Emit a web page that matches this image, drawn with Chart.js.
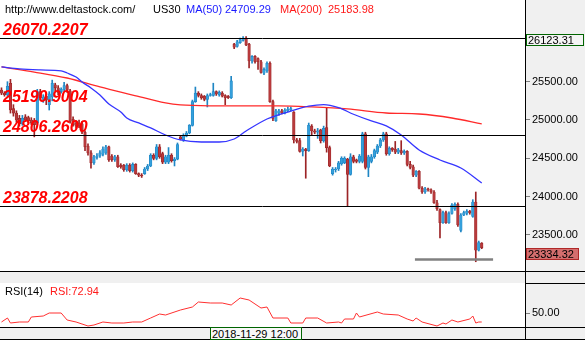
<!DOCTYPE html>
<html>
<head>
<meta charset="utf-8">
<title>US30</title>
<script src="https://cdn.jsdelivr.net/npm/chart.js@4.4.1/dist/chart.umd.min.js"></script>
<style>
  body { margin: 0; background: #f0f0f0; font-family: "Liberation Sans", Arial, sans-serif; }
  #wrap { position: relative; width: 585px; height: 340px; overflow: hidden; }
  canvas { position: absolute; left: 0; }
  #mainChart { top: 0; }
  #rsiChart { top: 283px; }
  .txt { position: absolute; font-size: 11px; line-height: 13px; white-space: nowrap; }
  .hline { position: absolute; height: 1px; background: #000; }
  .vline { position: absolute; width: 1px; background: #000; }
  #dateBox { position: absolute; left: 210px; top: 327px; width: 89px; height: 11px; border: 1px solid #006400;
             background: #f8f8f8; font-size: 11px; line-height: 12px; padding-left: 1px; }
</style>
</head>
<body>
<div id="wrap">
  <canvas id="mainChart" width="585" height="272"></canvas>
  <canvas id="rsiChart" width="585" height="44"></canvas>

  <div class="hline" style="left:0;top:271px;width:585px"></div>
  <div class="hline" style="left:525px;top:283px;width:60px"></div>
  <div class="hline" style="left:0;top:327px;width:585px"></div>
  <div class="hline" style="left:0;top:339px;width:585px"></div>
  <div class="vline" style="left:525px;top:0;height:340px"></div>

  <div class="txt" style="left:5px;top:3px;color:#000">http://www.deltastock.com/</div>
  <div class="txt" style="left:153px;top:3px;color:#000">US30</div>
  <div class="txt" style="left:186px;top:3px;color:#1a1aff">MA(50)</div>
  <div class="txt" style="left:225px;top:3px;color:#1a1aff">24709.29</div>
  <div class="txt" style="left:280px;top:3px;color:#ff1a1a">MA(200)</div>
  <div class="txt" style="left:328px;top:3px;color:#ff1a1a">25183.98</div>

  <div class="txt" style="left:5px;top:285px;color:#000">RSI(14)</div>
  <div class="txt" style="left:50px;top:285px;color:#ff1a1a">RSI:72.94</div>

  <div id="dateBox">2018-11-29 12:00</div>
</div>

<script>
// candles, oldest first
const opens = [
  25390, 25350, 25330, 25480, 25150, 25090, 25020, 24950, 25040, 25030,
  25000, 24990, 24960, 25370, 25270, 25310, 25200, 25300, 25460, 25420,
  25370, 25400, 25450, 25380, 25010, 24960, 24960, 24950, 24840, 24660,
  24570, 24440, 24510, 24530, 24550, 24570, 24650, 24530, 24480, 24520,
  24410, 24410, 24350, 24410, 24340, 24420, 24300, 24280, 24300, 24360,
  24400, 24540, 24500, 24650, 24560, 24450, 24450, 24540, 24470, 24490,
  24780, 24740, 24790, 24830, 24930, 25240, 25350, 25320, 25310, 25270,
  25320, 25320, 25370, 25330, 25350, 25320, 25310, 25290, 25990, 25960,
  26010, 26040, 26070, 25990, 25770, 25830, 25800, 25760, 25610, 25640,
  25740, 25240, 24990, 25090, 25120, 25090, 25120, 25130, 25100, 24740,
  24730, 24590, 24620, 24600, 24920, 24860, 24840, 24870, 24730, 24900,
  24640, 24300, 24350, 24360, 24430, 24440, 24490, 24290, 24520, 24480,
  24460, 24460, 24820, 24380, 24460, 24520, 24580, 24660, 24740, 24820,
  24560, 24630, 24620, 24580, 24600, 24570, 24590, 24420, 24390, 24280,
  24330, 24110, 24060, 24100, 24090, 24060, 23920, 23830, 23660, 23790,
  23660, 23780, 23840, 23900, 23560, 23760, 23780, 23810, 23740, 23930,
  23300, 23390
];
const highs = [
  25420, 25370, 25500, 25530, 25200, 25120, 25060, 25060, 25070, 25050,
  25030, 25020, 25400, 25400, 25330, 25330, 25370, 25520, 25480, 25450,
  25420, 25490, 25470, 25400, 25040, 24990, 25000, 24980, 24860, 24690,
  24600, 24540, 24560, 24600, 24650, 24670, 24660, 24550, 24540, 24540,
  24430, 24420, 24430, 24430, 24440, 24430, 24310, 24300, 24380, 24420,
  24560, 24560, 24680, 24680, 24580, 24540, 24640, 24560, 24510, 24700,
  24800, 24820, 24850, 24940, 25260, 25430, 25370, 25340, 25320, 25340,
  25350, 25480, 25380, 25380, 25370, 25330, 25320, 25570, 26000, 26040,
  26070, 26090, 26090, 26000, 25840, 25840, 25810, 25780, 25680, 25760,
  25760, 25260, 25140, 25140, 25140, 25150, 25170, 25170, 25110, 24760,
  24760, 24640, 24630, 24960, 24940, 24880, 24890, 24880, 24920, 25160,
  24660, 24380, 24380, 24460, 24520, 24520, 24500, 24560, 24540, 24490,
  24550, 24840, 24840, 24540, 24550, 24620, 24680, 24760, 24840, 24840,
  24650, 24640, 24720, 24630, 24730, 24610, 24600, 24460, 24410, 24340,
  24340, 24130, 24120, 24110, 24100, 24080, 23950, 23840, 23810, 23810,
  23800, 23910, 23920, 23920, 23780, 23810, 23830, 23820, 23960, 24060,
  23420, 23400
];
const lows = [
  25330, 25310, 25310, 25090, 25050, 24970, 24920, 24930, 24980, 24960,
  24940, 24780, 24940, 25260, 25230, 25200, 25130, 25250, 25380, 25330,
  25350, 25380, 25360, 24960, 24920, 24890, 24900, 24820, 24600, 24540,
  24370, 24420, 24490, 24510, 24530, 24550, 24460, 24460, 24460, 24380,
  24370, 24330, 24330, 24320, 24320, 24290, 24260, 24250, 24290, 24340,
  24390, 24480, 24480, 24500, 24430, 24430, 24430, 24450, 24400, 24480,
  24740, 24720, 24780, 24820, 24920, 25230, 25300, 25270, 25250, 25170,
  25310, 25310, 25320, 25310, 25300, 25200, 25280, 25280, 25930, 25950,
  26000, 26030, 25970, 25680, 25740, 25740, 25660, 25610, 25590, 25620,
  25230, 24990, 24980, 25060, 25080, 25080, 25110, 25120, 24700, 24700,
  24580, 24530, 24240, 24590, 24800, 24820, 24760, 24700, 24710, 24580,
  24390, 24280, 24320, 24340, 24410, 24430, 23880, 24280, 24440, 24440,
  24440, 24440, 24360, 24260, 24440, 24500, 24560, 24640, 24720, 24540,
  24540, 24590, 24560, 24560, 24550, 24550, 24400, 24360, 24260, 24260,
  24100, 24040, 24040, 24070, 24040, 23910, 23820, 23460, 23650, 23650,
  23650, 23770, 23820, 23610, 23540, 23750, 23760, 23770, 23730, 23150,
  23290, 23320
];
const closes = [
  25350, 25330, 25440, 25130, 25090, 25000, 24950, 25020, 25000, 24990,
  24960, 24940, 25370, 25290, 25300, 25260, 25340, 25480, 25420, 25360,
  25400, 25450, 25390, 24980, 24940, 24920, 24920, 24840, 24650, 24570,
  24440, 24520, 24530, 24570, 24620, 24650, 24480, 24480, 24520, 24390,
  24390, 24350, 24410, 24340, 24420, 24300, 24280, 24270, 24360, 24400,
  24540, 24500, 24650, 24520, 24450, 24520, 24540, 24470, 24490, 24680,
  24750, 24800, 24830, 24930, 25240, 25350, 25320, 25290, 25270, 25320,
  25330, 25370, 25340, 25360, 25310, 25290, 25290, 25510, 25950, 26020,
  26050, 26070, 25980, 25770, 25830, 25760, 25760, 25620, 25660, 25740,
  25240, 25020, 25120, 25120, 25090, 25130, 25140, 25150, 24740, 24720,
  24590, 24620, 24600, 24930, 24860, 24840, 24860, 24730, 24890, 24640,
  24400, 24360, 24360, 24440, 24500, 24500, 24290, 24520, 24460, 24460,
  24530, 24820, 24380, 24520, 24520, 24600, 24660, 24740, 24820, 24560,
  24630, 24610, 24580, 24610, 24570, 24590, 24420, 24380, 24280, 24330,
  24110, 24060, 24100, 24090, 24060, 23920, 23840, 23660, 23790, 23660,
  23780, 23890, 23900, 23630, 23760, 23790, 23810, 23790, 23930, 23300,
  23400, 23334.32
];

// moving averages as [bar, value]
const ma50 = [
  [0, 25692], [6, 25666], [13, 25653], [20, 25640], [22, 25613], [25, 25561],
  [27, 25496], [30, 25418], [33, 25326], [36, 25209], [40, 25104], [42, 25026],
  [46, 24961], [50, 24896], [55, 24804], [60, 24739], [67, 24713], [73, 24713],
  [78, 24752], [82, 24856], [89, 25013], [97, 25117], [103, 25180], [108, 25200],
  [113, 25160], [118, 25075], [124, 24987], [129, 24922], [134, 24804],
  [140, 24609], [147, 24478], [154, 24374], [161, 24178]
];
const ma200 = [
  [0, 25692], [11, 25626], [22, 25548], [33, 25431], [44, 25326], [55, 25222],
  [60, 25196], [71, 25184], [82, 25183], [93, 25183], [104, 25170], [116, 25144],
  [129, 25091], [140, 25078], [151, 25026], [161, 24948]
];

// RSI(14) as [bar, value]
const rsi = [
  [0, 41], [2, 45], [3, 40], [6, 41], [9, 41], [10, 46], [14, 47], [16, 50],
  [20, 50], [22, 43], [25, 41], [29, 37], [31, 38], [34, 41], [37, 40], [41, 40],
  [44, 41], [47, 41], [50, 45], [53, 49], [55, 48], [60, 53], [64, 56], [66, 61],
  [70, 60], [74, 60], [77, 58], [80, 65], [83, 63], [87, 55], [89, 56], [91, 45],
  [96, 45], [97, 40], [101, 40], [102, 45], [106, 45], [109, 40], [113, 41],
  [114, 40], [115, 44], [118, 44], [119, 50], [120, 46], [126, 51], [128, 49],
  [133, 48], [136, 44], [138, 42], [139, 45], [141, 41], [146, 37], [148, 40],
  [149, 39], [151, 43], [153, 41], [157, 44], [158, 47], [159, 40], [160, 41],
  [161, 41]
];

const priceTicks = [23500, 24000, 24500, 25000, 25500];
const rsiTicks = [50];
const levels = [26070.2207, 25190.9004, 24806.26, 23878.2208];
const levelLineShown = [true, false, true, true];
const supportLevel = 23178;
const supportFrom = 138.6;
const supportTo = 164.8;
const chartHigh = 26123.31;

const SLOTS = 176;
const UP = "#35a0dc";
const DOWN = "#b83a3c";
const UP_EDGE = "#1f86c4";
const DOWN_EDGE = "#9c2426";
const candleColors = opens.map((o, i) => closes[i] >= o ? UP : DOWN);
const candleEdges = opens.map((o, i) => closes[i] >= o ? UP_EDGE : DOWN_EDGE);

const whiteArea = {
  id: "whiteArea",
  beforeDraw(chart) {
    const { ctx, chartArea: a } = chart;
    ctx.save();
    ctx.fillStyle = "#ffffff";
    ctx.fillRect(a.left, a.top, a.right - a.left, a.bottom - a.top);
    ctx.restore();
  }
};

// horizontal levels with their price written above
const levelPlugin = {
  id: "levelPlugin",
  afterDatasetsDraw(chart) {
    const { ctx, chartArea: a, scales: { y } } = chart;
    ctx.save();
    levels.forEach((v, i) => {
      const py = Math.round(y.getPixelForValue(v)) + 0.5;
      if (levelLineShown[i]) {
        ctx.strokeStyle = "#000";
        ctx.lineWidth = 1;
        ctx.beginPath();
        ctx.moveTo(a.left, py);
        ctx.lineTo(a.right, py);
        ctx.stroke();
      }
      ctx.font = 'italic bold 16px "Liberation Sans", Arial, sans-serif';
      ctx.fillStyle = "#ff0000";
      ctx.textBaseline = "alphabetic";
      ctx.fillText(v.toFixed(4), 3, py - 4);
    });
    ctx.restore();
  },
  afterDraw(chart) {
    const { ctx, scales: { y } } = chart;
    const boxes = [
      { v: chartHigh, fill: "#f4f4f4", border: "#006400", w: 58 },
      { v: closes[closes.length - 1], fill: "#d46e6e", border: "#b02828", w: 53 }
    ];
    ctx.save();
    ctx.font = '11px "Liberation Sans", Arial, sans-serif';
    ctx.textBaseline = "middle";
    boxes.forEach(b => {
      const top = Math.round(y.getPixelForValue(b.v));
      ctx.fillStyle = b.fill;
      ctx.fillRect(526, top, b.w, 12);
      ctx.strokeStyle = b.border;
      ctx.lineWidth = 1;
      ctx.strokeRect(526.5, top + 0.5, b.w - 1, 11);
      ctx.fillStyle = "#000";
      ctx.fillText(b.v.toFixed(2), 528, top + 6.5);
    });
    ctx.restore();
  }
};

const rightAxis = (min, max, ticks) => ({
  position: "right",
  min: min,
  max: max,
  afterBuildTicks: s => { s.ticks = ticks.map(v => ({ value: v })); },
  afterFit: s => {
    // fixed strip on the right, and the plot runs the full panel height
    s.width = 60;
    s.paddingTop = 0;
    s.paddingBottom = 0;
  },
  ticks: {
    color: "#000",
    padding: 2,
    font: { family: '"Liberation Sans", Arial, sans-serif', size: 11 },
    callback: v => Number(v).toFixed(2)
  },
  grid: { drawOnChartArea: false, tickLength: 5, color: "#808080" },
  border: { display: true, color: "#000" }
});

const xAxis = {
  type: "linear",
  min: -0.5,
  max: SLOTS - 0.5,
  offset: false,
  display: false
};

new Chart(document.getElementById("mainChart"), {
  type: "bar",
  data: {
    datasets: [
      {
        type: "line",
        label: "MA(50)",
        data: ma50.map(([i, v]) => ({ x: i, y: v })),
        borderColor: "#3535ff",
        borderWidth: 1.3,
        pointRadius: 0,
        cubicInterpolationMode: "monotone",
        order: 0
      },
      {
        type: "line",
        label: "MA(200)",
        data: ma200.map(([i, v]) => ({ x: i, y: v })),
        borderColor: "#ff2a2a",
        borderWidth: 1.3,
        pointRadius: 0,
        cubicInterpolationMode: "monotone",
        order: 0
      },
      {
        type: "line",
        label: "support",
        data: [{ x: supportFrom, y: supportLevel }, { x: supportTo, y: supportLevel }],
        borderColor: "#808080",
        borderWidth: 2.5,
        pointRadius: 0,
        order: 0
      },
      {
        label: "body",
        data: opens.map((o, i) => ({ x: i, y: [o, closes[i]] })),
        backgroundColor: candleColors,
        borderColor: candleEdges,
        borderWidth: 0.6,
        borderSkipped: false,
        barThickness: 2.6,
        grouped: false,
        order: 1
      },
      {
        label: "wick",
        data: highs.map((h, i) => ({ x: i, y: [lows[i], h] })),
        backgroundColor: candleEdges,
        barThickness: 1,
        grouped: false,
        order: 2
      }
    ]
  },
  options: {
    responsive: false,
    animation: false,
    layout: { padding: 0 },
    plugins: { legend: { display: false }, tooltip: { enabled: false } },
    scales: {
      x: xAxis,
      y: rightAxis(23016, 26566, priceTicks)
    }
  },
  plugins: [whiteArea, levelPlugin]
});

new Chart(document.getElementById("rsiChart"), {
  type: "line",
  data: {
    datasets: [{
      label: "RSI(14)",
      data: rsi.map(([i, v]) => ({ x: i, y: v })),
      borderColor: "#ff3030",
      borderWidth: 1,
      pointRadius: 0,
      tension: 0
    }]
  },
  options: {
    responsive: false,
    animation: false,
    layout: { padding: 0 },
    plugins: { legend: { display: false }, tooltip: { enabled: false } },
    scales: {
      x: xAxis,
      y: rightAxis(36, 80, rsiTicks)
    }
  },
  plugins: [whiteArea]
});
</script>
</body>
</html>
